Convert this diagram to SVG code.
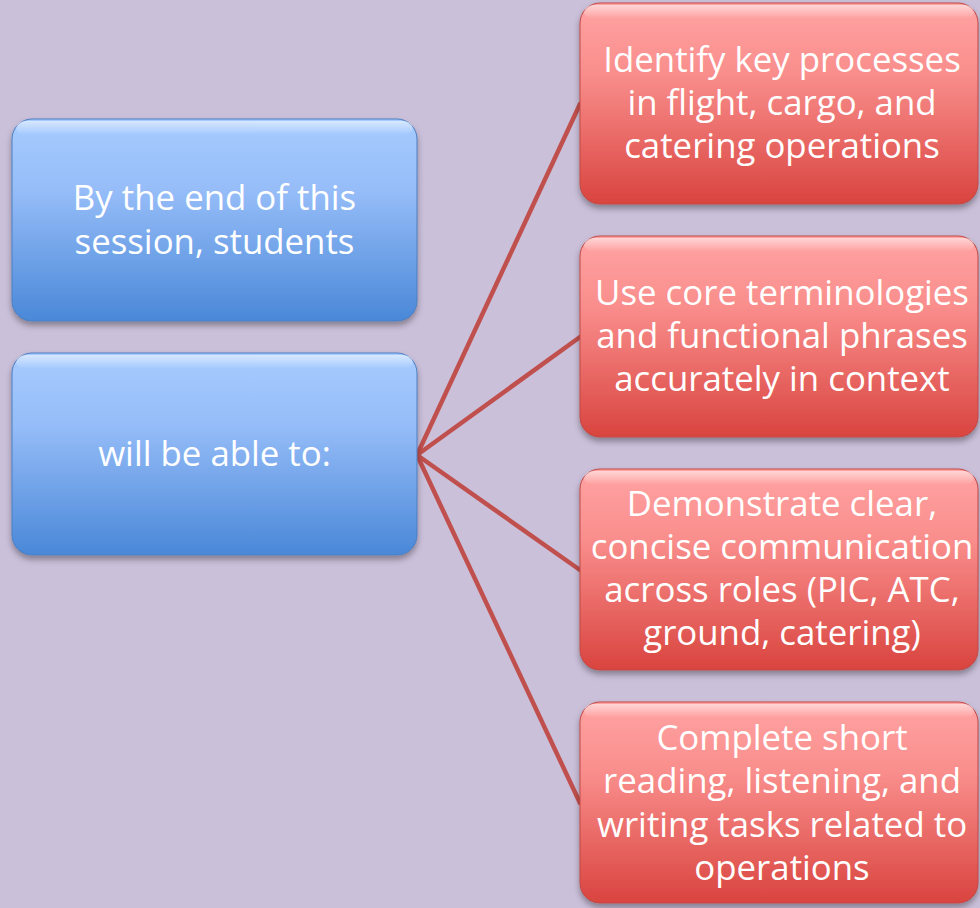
<svg xmlns="http://www.w3.org/2000/svg" width="980" height="908" viewBox="0 0 980 908">
<style>
.t{font-family:"Open Sans","Liberation Sans",Arial,sans-serif;font-size:34.8px;fill:#ffffff;text-anchor:middle}
.c{stroke:#C0504D;stroke-width:4.5;fill:none;stroke-linecap:round}
</style>
<defs>
<linearGradient id="gb" x1="0" y1="0" x2="0" y2="1">
<stop offset="0" stop-color="#A6CBFF"/>
<stop offset="0.35" stop-color="#96BDF8"/>
<stop offset="1" stop-color="#4A88D8"/>
</linearGradient>
<linearGradient id="gr" x1="0" y1="0" x2="0" y2="1">
<stop offset="0" stop-color="#FFA3A3"/>
<stop offset="0.35" stop-color="#F98E8C"/>
<stop offset="1" stop-color="#D9443F"/>
</linearGradient>
<linearGradient id="hl" x1="0" y1="0" x2="0" y2="1">
<stop offset="0" stop-color="#ffffff" stop-opacity="0.55"/>
<stop offset="1" stop-color="#ffffff" stop-opacity="0"/>
</linearGradient>
<filter id="sh" x="-10%" y="-10%" width="120%" height="125%">
<feGaussianBlur in="SourceAlpha" stdDeviation="3"/>
<feOffset dx="0" dy="4" result="b"/>
<feFlood flood-color="#000" flood-opacity="0.35"/>
<feComposite in2="b" operator="in"/>
<feMerge><feMergeNode/><feMergeNode in="SourceGraphic"/></feMerge>
</filter>
</defs>
<rect width="980" height="908" fill="#CBC0DA"/>
<g id="connectors">
<line class="c" x1="417" y1="455" x2="580" y2="104"/>
<line class="c" x1="417" y1="455" x2="580" y2="337"/>
<line class="c" x1="417" y1="455" x2="580" y2="570"/>
<line class="c" x1="417" y1="455" x2="580" y2="803"/>
</g>
<g id="blue1">
<rect x="12" y="119" width="405" height="202" rx="20" fill="url(#gb)" stroke="#4A7EC0" stroke-width="1" filter="url(#sh)"/>
<rect x="16" y="121" width="397" height="14" rx="10" fill="url(#hl)"/>
<text class="t" x="214.5" y="210">By the end of this</text>
<text class="t" x="214.5" y="254">session, students</text>
</g>
<g id="blue2">
<rect x="12" y="353" width="405" height="202" rx="20" fill="url(#gb)" stroke="#4A7EC0" stroke-width="1" filter="url(#sh)"/>
<rect x="16" y="355" width="397" height="14" rx="10" fill="url(#hl)"/>
<text class="t" x="214.5" y="466">will be able to:</text>
</g>
<g id="red1">
<rect x="580" y="3" width="398" height="201" rx="20" fill="url(#gr)" stroke="#C04844" stroke-width="1" filter="url(#sh)"/>
<rect x="584" y="5" width="390" height="14" rx="10" fill="url(#hl)"/>
<text class="t" x="782" y="72">Identify key processes</text>
<text class="t" x="782" y="115">in flight, cargo, and</text>
<text class="t" x="782" y="158">catering operations</text>
</g>
<g id="red2">
<rect x="580" y="236" width="398" height="201" rx="20" fill="url(#gr)" stroke="#C04844" stroke-width="1" filter="url(#sh)"/>
<rect x="584" y="238" width="390" height="14" rx="10" fill="url(#hl)"/>
<text class="t" x="782" y="305">Use core terminologies</text>
<text class="t" x="782" y="348">and functional phrases</text>
<text class="t" x="782" y="391">accurately in context</text>
</g>
<g id="red3">
<rect x="580" y="469" width="398" height="201" rx="20" fill="url(#gr)" stroke="#C04844" stroke-width="1" filter="url(#sh)"/>
<rect x="584" y="471" width="390" height="14" rx="10" fill="url(#hl)"/>
<text class="t" x="782" y="516">Demonstrate clear,</text>
<text class="t" x="782" y="559">concise communication</text>
<text class="t" x="782" y="602">across roles (PIC, ATC,</text>
<text class="t" x="782" y="645">ground, catering)</text>
</g>
<g id="red4">
<rect x="580" y="702" width="398" height="201" rx="20" fill="url(#gr)" stroke="#C04844" stroke-width="1" filter="url(#sh)"/>
<rect x="584" y="704" width="390" height="14" rx="10" fill="url(#hl)"/>
<text class="t" x="782" y="750">Complete short</text>
<text class="t" x="782" y="793">reading, listening, and</text>
<text class="t" x="782" y="837">writing tasks related to</text>
<text class="t" x="782" y="880">operations</text>
</g>
</svg>
